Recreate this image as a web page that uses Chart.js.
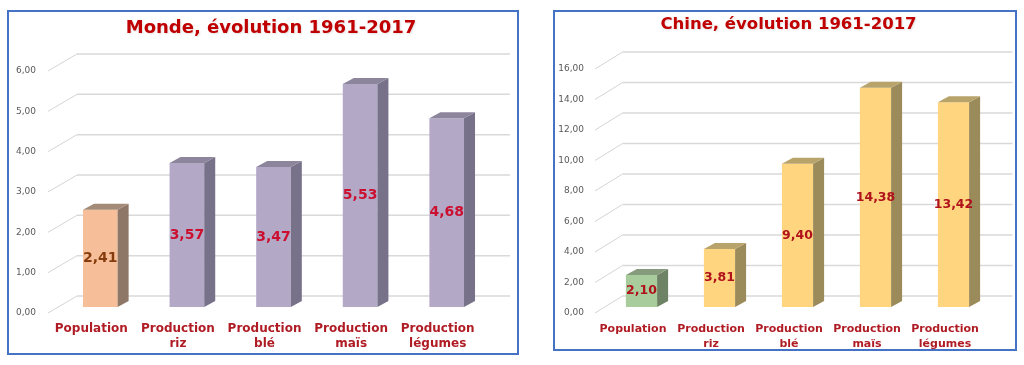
<!DOCTYPE html>
<html lang="fr">
<head>
<meta charset="utf-8">
<title>Monde / Chine, évolution 1961-2017</title>
<script src="https://cdn.jsdelivr.net/npm/chart.js@4.4.1/dist/chart.umd.min.js"></script>
<style>
  html, body { margin: 0; padding: 0; background: #fff; }
  .panel { position: absolute; border: 2px solid #4472c4; background: #fff; }
  #monde-panel { left: 7px; top: 10px; width: 508px; height: 341px; }
  #chine-panel { left: 553px; top: 10px; width: 460px; height: 337px; }
  canvas { display: block; }
</style>
</head>
<body>
<div class="panel" id="monde-panel"><canvas id="monde" width="508" height="341"></canvas></div>
<div class="panel" id="chine-panel"><canvas id="chine" width="460" height="337"></canvas></div>
<script>
const categories = ['Population', ['Production', 'riz'], ['Production', 'blé'], ['Production', 'maïs'], ['Production', 'légumes']];
const mondeValues = [2.41, 3.57, 3.47, 5.53, 4.68];
const chineValues = [2.10, 3.81, 9.40, 14.38, 13.42];
const mondeTicks = [0, 1, 2, 3, 4, 5, 6];
const chineTicks = [0, 2, 4, 6, 8, 10, 12, 14, 16];

const fmt = v => v.toFixed(2).replace('.', ',');
const FONT = "'DejaVu Sans', Verdana, sans-serif";

// fake 3D look: back wall grid + diagonals, bar side/top faces, value labels, title
const pseudo3d = {
    id: 'pseudo3d',
    beforeDatasetsDraw(chart, args, o) {
        const { ctx, chartArea: ca } = chart;
        const y = chart.scales.y;
        ctx.save();
        y.ticks.forEach(t => {
            const py = y.getPixelForValue(t.value);
            ctx.strokeStyle = '#d9d9d9';
            ctx.lineWidth = 1.5;
            ctx.beginPath();
            ctx.moveTo(ca.left + o.backX, py + o.backY);
            ctx.lineTo(ca.right + o.backX, py + o.backY);
            ctx.stroke();
            ctx.strokeStyle = '#d4d4d4';
            ctx.lineWidth = 1;
            ctx.beginPath();
            ctx.moveTo(ca.left + o.frontX, py + o.frontY);
            ctx.lineTo(ca.left + o.backX, py + o.backY);
            ctx.stroke();
        });
        ctx.restore();
    },
    afterDatasetsDraw(chart, args, o) {
        const { ctx } = chart;
        const ds = chart.data.datasets[0];
        const meta = chart.getDatasetMeta(0);
        ctx.save();
        meta.data.forEach((bar, i) => {
            const { x, y, base, width } = bar.getProps(['x', 'y', 'base', 'width'], true);
            const l = x - width / 2, r = x + width / 2;
            // side
            ctx.fillStyle = ds.sideColor[i];
            ctx.beginPath();
            ctx.moveTo(r, y);
            ctx.lineTo(r + o.sideX, y + o.sideY);
            ctx.lineTo(r + o.sideX, base + o.sideY);
            ctx.lineTo(r, base);
            ctx.closePath();
            ctx.fill();
            // top
            ctx.fillStyle = ds.topColor[i];
            ctx.beginPath();
            ctx.moveTo(l, y);
            ctx.lineTo(l + o.sideX, y + o.sideY);
            ctx.lineTo(r + o.sideX, y + o.sideY);
            ctx.lineTo(r, y);
            ctx.closePath();
            ctx.fill();
            // value
            ctx.font = `bold ${o.valueSize}px ${FONT}`;
            ctx.fillStyle = ds.labelColor[i];
            ctx.textAlign = 'center';
            ctx.textBaseline = 'middle';
            ctx.fillText(fmt(ds.data[i]), x, (y + base) / 2);
        });
        ctx.restore();
    },
    afterDraw(chart, args, o) {
        // title is not centred on the canvas in the original, so placed by hand
        const { ctx } = chart;
        ctx.save();
        ctx.font = `bold ${o.titleSize}px ${FONT}`;
        ctx.fillStyle = '#c00000';
        ctx.shadowColor = 'rgba(0,0,0,0.12)';
        ctx.shadowBlur = 2;
        ctx.shadowOffsetX = 1;
        ctx.shadowOffsetY = 1;
        ctx.textAlign = 'center';
        ctx.textBaseline = 'middle';
        ctx.fillText(o.title, o.titleX, o.titleY);
        ctx.restore();
    }
};

function makeChart(id, values, ticks, look) {
    return new Chart(document.getElementById(id), {
        type: 'bar',
        data: {
            labels: categories,
            datasets: [{
                data: values,
                backgroundColor: look.front,
                sideColor: look.side,
                topColor: look.top,
                labelColor: look.valueColor,
                borderWidth: 0,
                barPercentage: 0.4,
                categoryPercentage: 1
            }]
        },
        options: {
            responsive: false,
            animation: false,
            devicePixelRatio: 1,
            layout: { padding: { left: 0, right: look.padR, top: look.padT, bottom: 0 } },
            scales: {
                x: {
                    grid: { display: false, drawTicks: false },
                    border: { display: false },
                    ticks: {
                        color: '#b01c24',
                        font: { family: FONT, weight: 'bold', size: look.catSize, lineHeight: look.catLine },
                        padding: look.catPad,
                        labelOffset: look.catShift,
                        maxRotation: 0,
                        autoSkip: false
                    },
                    afterFit: s => { s.height = look.xHeight; }
                },
                y: {
                    min: 0,
                    max: ticks[ticks.length - 1],
                    grid: { display: false, drawTicks: false },
                    border: { display: false },
                    afterBuildTicks: s => { s.ticks = ticks.map(v => ({ value: v })); },
                    ticks: {
                        color: '#595959',
                        font: { family: FONT, size: 9 },
                        padding: look.tickPad,
                        labelOffset: 6,
                        autoSkip: false,
                        callback: v => fmt(v)
                    },
                    afterFit: s => { s.width = look.yWidth; }
                }
            },
            plugins: {
                legend: { display: false },
                tooltip: { enabled: false },
                title: { display: false },
                pseudo3d: {
                    backX: 20, backY: -11, frontX: look.frontX, frontY: 6, sideX: 11, sideY: -6,
                    valueSize: look.valueSize,
                    title: look.title, titleSize: look.titleSize, titleX: look.titleX, titleY: look.titleY
                }
            }
        },
        plugins: [pseudo3d]
    });
}

const purple = '#b3a9c7', purpleSide = '#77718a', purpleTop = '#8c859c';
const yellow = '#ffd57f', yellowSide = '#9b8b5a', yellowTop = '#b8a36a';

makeChart('monde', mondeValues, mondeTicks, {
    title: 'Monde, évolution 1961-2017',
    titleSize: 18, titleX: 262, titleY: 16,
    front: ['#f7be9a', purple, purple, purple, purple],
    side: ['#8e7766', purpleSide, purpleSide, purpleSide, purpleSide],
    top: ['#a48b78', purpleTop, purpleTop, purpleTop, purpleTop],
    valueColor: ['#843c0c', '#cc0f2f', '#cc0f2f', '#cc0f2f', '#cc0f2f'],
    valueSize: 14,
    padR: 27, padT: 53, yWidth: 48, tickPad: 21, xHeight: 46,
    catSize: 12, catLine: 1.25, catPad: 14.8, catShift: -9, frontX: -9
});

makeChart('chine', chineValues, chineTicks, {
    title: 'Chine, évolution 1961-2017',
    titleSize: 16.5, titleX: 233.5, titleY: 13,
    front: ['#a9cc9c', yellow, yellow, yellow, yellow],
    side: ['#6e8266', yellowSide, yellowSide, yellowSide, yellowSide],
    top: ['#869a7c', yellowTop, yellowTop, yellowTop, yellowTop],
    valueColor: ['#b0121b', '#b0121b', '#b0121b', '#b0121b', '#b0121b'],
    valueSize: 12.5,
    padR: 22.5, padT: 51, yWidth: 47.5, tickPad: 18.5, xHeight: 42,
    catSize: 11, catLine: 1.36, catPad: 14.5, catShift: -8.5, frontX: -7.5
});
</script>
</body>
</html>
